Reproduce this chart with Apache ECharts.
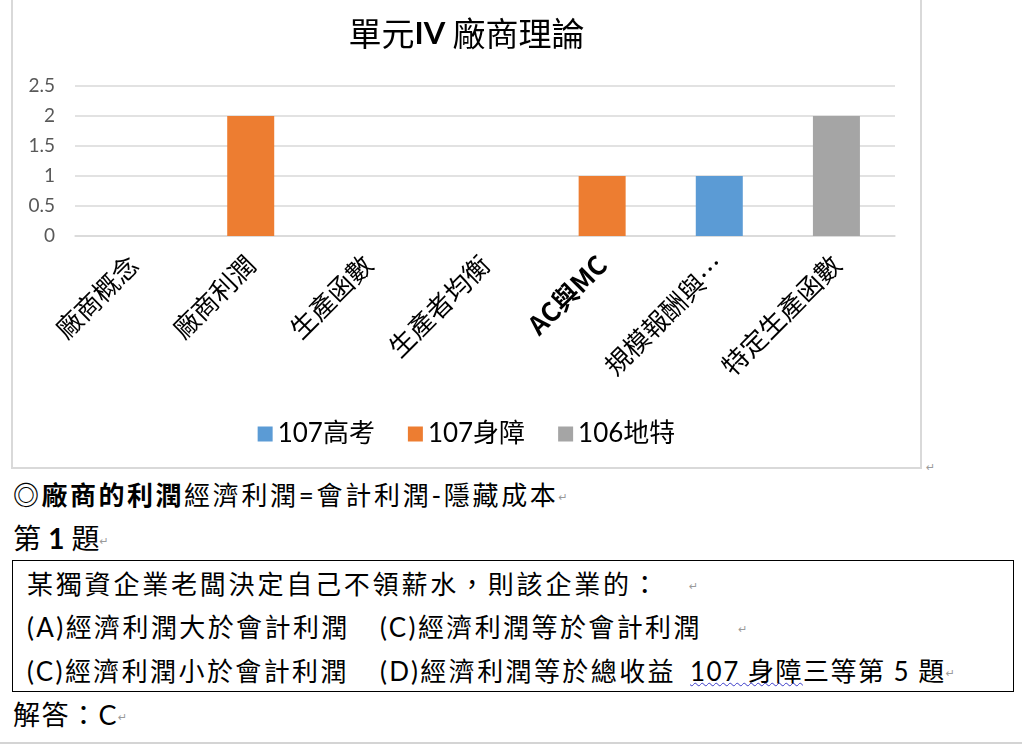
<!DOCTYPE html>
<html>
<head>
<meta charset="utf-8">
<script src="https://cdn.jsdelivr.net/npm/echarts@6/dist/echarts.min.js"></script>
<style>
  html, body { margin:0; padding:0; width:1022px; height:744px; overflow:hidden; background:#fff; }
  body { position:relative; font-family: "Lato", "Noto Sans CJK TC", sans-serif; color:#000; }
  #frame { position:absolute; left:11px; top:-3px; width:911px; height:472px; border:2px solid #d9d9d9; box-sizing:border-box; }
  #chart { position:absolute; left:13px; top:0; width:907px; height:466px; }
  .t { position:absolute; white-space:nowrap; }
  .rm { color:#9a9a9a; font-size:11px; letter-spacing:0; font-weight:normal; font-family:"DejaVu Sans", sans-serif; vertical-align:middle; }
  #box { position:absolute; left:12px; top:560px; width:1002px; height:132px; border:1.5px solid #000; box-sizing:border-box; }
  #hr { position:absolute; left:0; top:742px; width:1022px; height:2px; background:#d4d4d4; }
</style>
</head>
<body>
<div id="frame"></div>
<div id="chart"></div>
<div class="t" style="left:926px;top:456px;"><span class="rm">↵</span></div>

<div class="t" style="left:13px;top:476px;line-height:38px;font-size:26px;letter-spacing:2.7px;"><b style="letter-spacing:2.5px;">◎廠商的利潤</b>經濟利潤=會計利潤-隱藏成本<span class="rm">↵</span></div>
<div class="t" style="left:13px;top:519px;line-height:38px;font-size:28px;">第 <b>1</b> 題<span class="rm">↵</span></div>

<div id="box"></div>
<div class="t" style="left:27px;top:565px;line-height:38px;font-size:26px;letter-spacing:2.8px;">某獨資企業老闆決定自己不領薪水，則該企業的：&nbsp;&nbsp;&nbsp;<span class="rm">↵</span></div>
<div class="t" style="left:27px;top:608px;line-height:38px;font-size:26px;letter-spacing:2.4px;">(A)經濟利潤大於會計利潤</div>
<div class="t" style="left:380px;top:608px;line-height:38px;font-size:26px;letter-spacing:2.4px;">(C)經濟利潤等於會計利潤&nbsp;&nbsp;&nbsp;&nbsp;<span class="rm">↵</span></div>
<div class="t" style="left:27px;top:652px;line-height:38px;font-size:26px;letter-spacing:2.4px;">(C)經濟利潤小於會計利潤</div>
<div class="t" style="left:380px;top:652px;line-height:38px;font-size:26px;letter-spacing:2.4px;">(D)經濟利潤等於總收益</div>
<div class="t" style="left:690px;top:652px;line-height:38px;font-size:26px;letter-spacing:1.5px;"><span style="text-decoration:underline wavy #3b3bc8;text-decoration-thickness:1px;">107 身障</span>三等第 5 題<span class="rm">↵</span></div>

<div class="t" style="left:13px;top:696px;line-height:38px;font-size:27px;letter-spacing:1.5px;">解答：C<span class="rm">↵</span></div>
<div id="hr"></div>

<script>
const categories = ['廠商概念', '廠商利潤', '生產函數', '生產者均衡', 'AC與MC', '規模報酬與…', '特定生產函數'];
const seriesNames = ['107高考', '107身障', '106地特'];
const gaokao107 = [null, null, null, null, null, 1, null];
const shenzhang107 = [null, 2, null, null, 1, null, null];
const dite106 = [null, null, null, null, null, null, 2];
const yTicks = [0, 0.5, 1, 1.5, 2, 2.5];
const colors = ['#5b9bd5', '#ed7d31', '#a5a5a5'];

const chart = echarts.init(document.getElementById('chart'));
const cjk = '"Noto Sans CJK TC", sans-serif';
const lat = '"Lato", "Noto Sans CJK TC", sans-serif';
chart.setOption({
  animation: false,
  color: colors,
  title: {
    text: '單元{b|IV} 廠商理論',
    left: 'center',
    top: 12,
    textStyle: {
      fontFamily: cjk, fontSize: 33, fontWeight: 'normal', color: '#000',
      rich: { b: { fontFamily: '"Lato", sans-serif', fontSize: 31, fontWeight: 'bold', color: '#000' } }
    }
  },
  legend: {
    data: seriesNames,
    top: 416,
    left: 'center',
    itemWidth: 15,
    itemHeight: 15,
    itemGap: 33,
    icon: 'rect',
    textStyle: { fontFamily: lat, fontSize: 26, color: '#000' }
  },
  grid: { left: 62, right: 25, top: 86, bottom: 230, containLabel: false },
  xAxis: {
    type: 'category',
    data: categories,
    axisLine: { show: true, lineStyle: { color: '#d9d9d9', width: 1.5 } },
    axisTick: { show: false },
    axisLabel: {
      rotate: 45,
      interval: 0,
      margin: 24,
      fontFamily: cjk,
      fontSize: 26,
      color: '#000',
      formatter: function (v) { return v === 'AC與MC' ? '{b|' + v + '}' : v; },
      rich: { b: { fontFamily: cjk, fontSize: 26, fontWeight: 'bold', color: '#000' } }
    }
  },
  yAxis: {
    type: 'value',
    min: yTicks[0],
    max: yTicks[yTicks.length - 1],
    interval: 0.5,
    axisLine: { show: false },
    axisTick: { show: false },
    splitLine: { lineStyle: { color: '#d9d9d9', width: 1.5 } },
    axisLabel: { margin: 20, fontFamily: lat, fontSize: 19, color: '#595959' }
  },
  series: [
    { name: seriesNames[0], type: 'bar', data: gaokao107, barWidth: 47, barGap: '-100%' },
    { name: seriesNames[1], type: 'bar', data: shenzhang107, barWidth: 47, barGap: '-100%' },
    { name: seriesNames[2], type: 'bar', data: dite106, barWidth: 47, barGap: '-100%' }
  ]
});
</script>
</body>
</html>
